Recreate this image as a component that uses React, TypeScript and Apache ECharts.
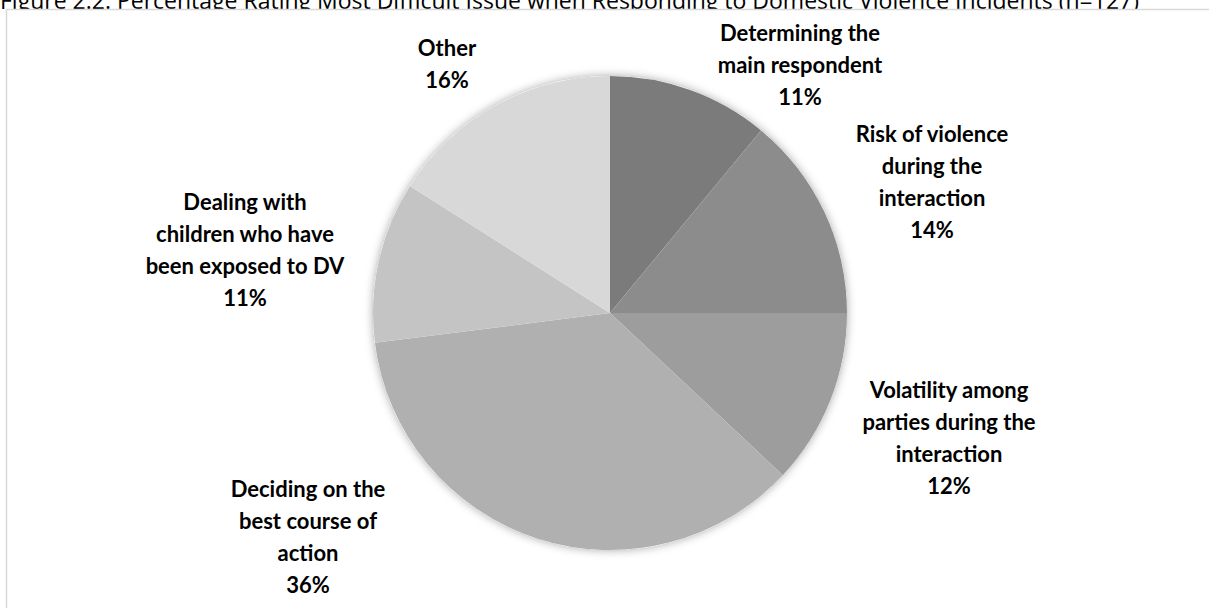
import React, { useEffect, useRef } from "react";
import * as echarts from "echarts";

const titleText =
  "Figure 2.2: Percentage Rating Most Difficult Issue when Responding to Domestic Violence Incidents (n=127)";

const categories = [
  "Determining the\nmain respondent",
  "Risk of violence\nduring the\ninteraction",
  "Volatility among\nparties during the\ninteraction",
  "Deciding on the\nbest course of\naction",
  "Dealing with\nchildren who have\nbeen exposed to DV",
  "Other",
];
const values = [11, 14, 12, 36, 11, 16];
const colors = ["#7b7b7b", "#8c8c8c", "#9d9d9d", "#b0b0b0", "#c4c4c4", "#d8d8d8"];
// label block centres (layout only)
const labelPos: [number, number][] = [
  [800, 64],
  [932, 181],
  [949, 437],
  [308, 536],
  [245, 249],
  [447, 63],
];

export default function App() {
  const ref = useRef<HTMLDivElement>(null);
  useEffect(() => {
    if (!ref.current) return;
    const chart = echarts.init(ref.current, null, { renderer: "svg" });
    chart.setOption({
      animation: false,
      backgroundColor: "#ffffff",
      graphic: [
        {
          type: "text",
          x: 0,
          y: 11,
          z: 1,
          style: {
            text: titleText,
            font: '23px "Open Sans"',
            fill: "#000",
            verticalAlign: "bottom",
            align: "left",
          },
        },
        {
          type: "rect",
          z: 2,
          shape: { x: 0, y: 9, width: 1260, height: 700 },
          style: { fill: "#ffffff", stroke: "none" },
          silent: true,
        },
        {
          type: "rect",
          z: 3,
          shape: { x: 6.5, y: 9.5, width: 1260, height: 700 },
          style: { fill: "none", stroke: "#d9d9d9", lineWidth: 1.5 },
          silent: true,
        },
      ],
      series: [
        {
          type: "pie",
          silent: true,
          center: [610, 313],
          radius: 237,
          z: 4,
          label: { show: false },
          labelLine: { show: false },
          itemStyle: {
            color: "#ffffff",
            shadowBlur: 10,
            shadowColor: "rgba(0,0,0,0.35)",
          },
          data: [{ value: 1, name: "" }],
        },
        {
          type: "pie",
          center: [610, 313],
          radius: 237,
          startAngle: 90,
          clockwise: true,
          z: 5,
          data: categories.map((c, i) => ({
            name: c,
            value: values[i],
            itemStyle: { color: colors[i] },
          })),
          label: {
            show: true,
            position: "outside",
            formatter: "{b}\n{c}%",
            fontFamily: "Lato",
            fontWeight: "bold",
            fontSize: 22,
            lineHeight: 32,
            color: "#000",
            align: "center",
          },
          labelLine: { show: false },
          labelLayout: (p: any) => ({
            x: labelPos[p.dataIndex][0],
            y: labelPos[p.dataIndex][1],
            align: "center",
            verticalAlign: "middle",
          }),
        },
      ],
    });
    return () => chart.dispose();
  }, []);
  return (
    <div
      ref={ref}
      style={{ position: "fixed", left: 0, top: 0, width: 1209, height: 608 }}
    />
  );
}
